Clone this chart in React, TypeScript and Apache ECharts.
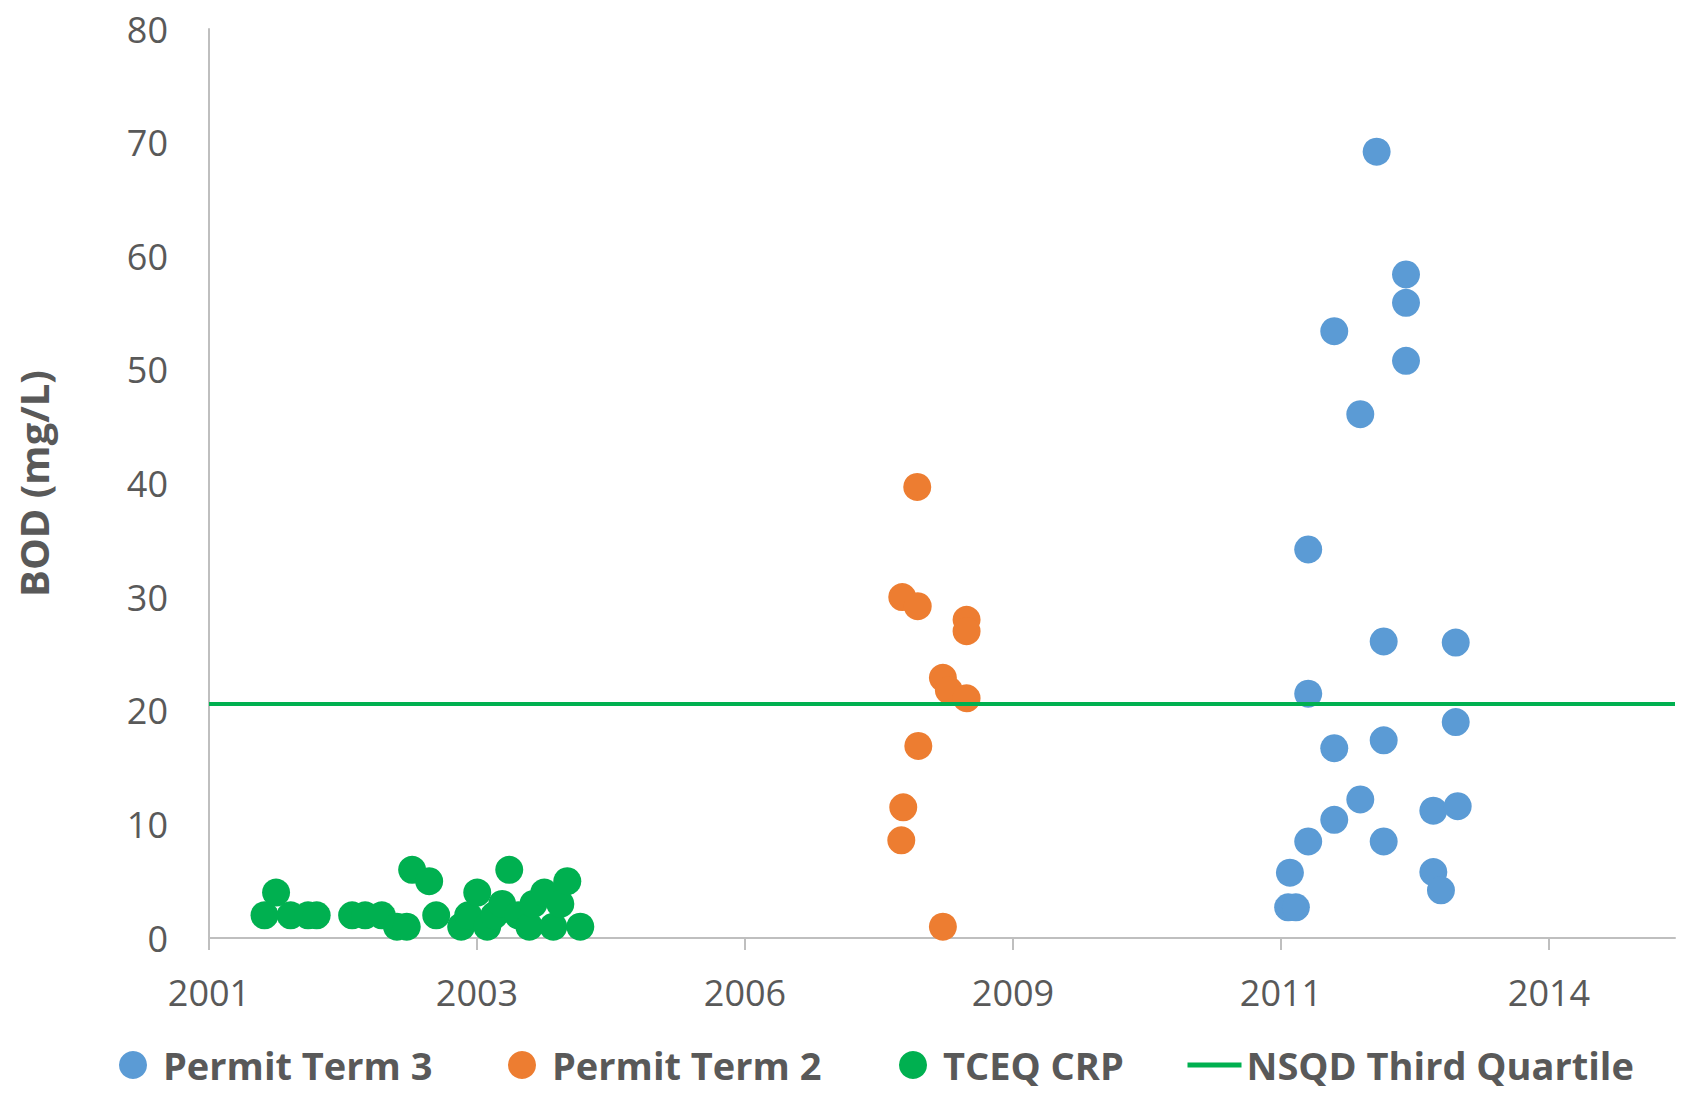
import React, { useEffect, useRef } from "react";
import * as echarts from "echarts";

// Sample dates as decimal years, BOD values in mg/L
const permitTerm3Years = [2012.950, 2013.250, 2013.250, 2012.517, 2013.250, 2012.783, 2012.251, 2013.022, 2013.758, 2012.251, 2013.758, 2012.517, 2013.022, 2012.783, 2013.529, 2013.778, 2012.517, 2012.251, 2013.022, 2012.064, 2013.529, 2013.607, 2012.046, 2012.125];
const permitTerm3Values = [69.2, 58.4, 55.9, 53.4, 50.8, 46.1, 34.2, 26.1, 26.0, 21.5, 19.0, 16.7, 17.4, 12.2, 11.2, 11.6, 10.4, 8.5, 8.5, 5.75, 5.8, 4.2, 2.7, 2.7];

const permitTerm2Years = [2008.257, 2008.104, 2008.262, 2008.761, 2008.761, 2008.519, 2008.580, 2008.761, 2008.268, 2008.114, 2008.094, 2008.519];
const permitTerm2Values = [39.7, 30.0, 29.2, 28.0, 27.0, 22.9, 21.8, 21.1, 16.9, 11.5, 8.6, 1.0];

const tceqYears = [2001.589, 2001.707, 2001.856, 2002.034, 2002.122, 2002.484, 2002.617, 2002.787, 2002.942, 2003.042, 2003.097, 2003.271, 2003.343, 2003.598, 2003.670, 2003.762, 2003.864, 2003.936, 2004.017, 2004.089, 2004.181, 2004.294, 2004.335, 2004.447, 2004.539, 2004.611, 2004.682, 2004.815];
const tceqValues = [2, 4, 2, 2, 2, 2, 2, 2, 1, 1, 6, 5, 2, 1, 2, 4, 1, 2, 3, 6, 2, 1, 3, 4, 1, 3, 5, 1];

const nsqdThirdQuartile = 20.6;

// x axis: days since 2001-01-09 (Excel serial 36900)
const axisStartYear = 2001.0219;
const axisMaxDays = 5470;
const tickDays = [0, 1000, 2000, 3000, 4000, 5000];

const yearToDays = (y: number) => (y - axisStartYear) * 365.25;
const daysToYearLabel = (d: number) =>
  String(new Date(Date.UTC(2001, 0, 9) + d * 86400000).getUTCFullYear());

const zip = (xs: number[], ys: number[]) => xs.map((x, i) => [yearToDays(x), ys[i]]);

const FONT = "Open Sans";
const TEXT = "#595959";
const AXIS = "#BFBFBF";

export default function App() {
  const ref = useRef<HTMLDivElement>(null);
  useEffect(() => {
    if (!ref.current) return;
    const chart = echarts.init(ref.current, null, { renderer: "svg" });
    const legendText = {
      fontFamily: FONT,
      fontWeight: "bold",
      fontSize: 38,
      lineHeight: 34,
      color: TEXT,
    };
    const legendBase = {
      orient: "horizontal",
      top: 1046,
      padding: 0,
      itemHeight: 28,
      itemWidth: 28,
      textStyle: { ...legendText, padding: [0, 0, 0, 11] },
    };
    chart.setOption({
      animation: false,
      backgroundColor: "#ffffff",
      grid: { left: 209, right: 25, top: 29, bottom: 155 },
      xAxis: {
        type: "value",
        min: 0,
        max: axisMaxDays,
        interval: 1000,
        splitLine: { show: false },
        axisLine: { show: true, lineStyle: { color: AXIS, width: 2 } },
        axisTick: { show: true, length: 12, lineStyle: { color: AXIS, width: 2 }, customValues: tickDays },
        axisLabel: {
          customValues: tickDays,
          formatter: (v: number) => daysToYearLabel(v),
          fontFamily: FONT,
          fontSize: 36,
          color: TEXT,
          margin: 36,
        },
      },
      yAxis: {
        type: "value",
        min: 0,
        max: 80,
        interval: 10,
        name: "BOD (mg/L)",
        nameLocation: "middle",
        nameGap: 156,
        nameTextStyle: { fontFamily: FONT, fontWeight: "bold", fontSize: 40, color: TEXT },
        splitLine: { show: false },
        axisLine: { show: true, lineStyle: { color: AXIS, width: 2 } },
        axisTick: { show: false },
        axisLabel: { fontFamily: FONT, fontSize: 36, color: TEXT, margin: 41 },
      },
      legend: [
        { ...legendBase, left: 119, data: [{ name: "Permit Term 3", icon: "circle" }] },
        { ...legendBase, left: 508, data: [{ name: "Permit Term 2", icon: "circle" }] },
        { ...legendBase, left: 899, data: [{ name: "TCEQ CRP", icon: "circle" }] },
        {
          ...legendBase,
          left: 1185,
          itemWidth: 54,
          textStyle: legendText,
          data: [{ name: "NSQD Third Quartile", itemStyle: { opacity: 0 }, lineStyle: { opacity: 1, width: 5 } }],
        },
      ],
      series: [
        {
          name: "Permit Term 3",
          type: "scatter",
          symbol: "circle",
          symbolSize: 28,
          itemStyle: { color: "#5B9BD5", opacity: 1 },
          data: zip(permitTerm3Years, permitTerm3Values),
        },
        {
          name: "Permit Term 2",
          type: "scatter",
          symbol: "circle",
          symbolSize: 28,
          itemStyle: { color: "#ED7D31", opacity: 1 },
          data: zip(permitTerm2Years, permitTerm2Values),
        },
        {
          name: "TCEQ CRP",
          type: "scatter",
          symbol: "circle",
          symbolSize: 28,
          itemStyle: { color: "#00B050", opacity: 1 },
          data: zip(tceqYears, tceqValues),
        },
        {
          name: "NSQD Third Quartile",
          type: "line",
          symbol: "none",
          lineStyle: { color: "#00B050", width: 4 },
          itemStyle: { color: "#00B050" },
          data: [
            [0, nsqdThirdQuartile],
            [axisMaxDays, nsqdThirdQuartile],
          ],
        },
      ],
    });
    return () => chart.dispose();
  }, []);
  return (
    <div
      ref={ref}
      style={{ position: "absolute", left: 0, top: 0, width: 1700, height: 1093 }}
    />
  );
}
